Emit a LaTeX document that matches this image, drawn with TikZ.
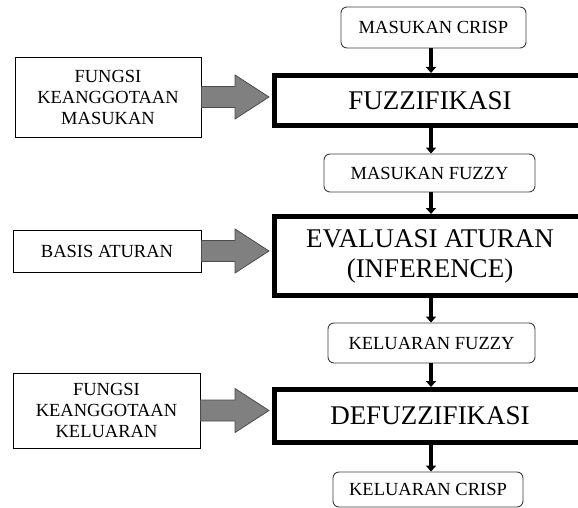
\documentclass[tikz,border=0pt]{standalone}
\usepackage{fontspec}
\setmainfont{Liberation Serif}
\usetikzlibrary{arrows.meta,calc}
\begin{document}
\begin{tikzpicture}[x=1pt,y=-1pt,
  smallbox/.style={draw=black!75,line width=0.9pt,rounded corners=6pt,fill=white,
    inner sep=0pt,font=\fontsize{18.5}{21}\selectfont},
  sidebox/.style={draw=black,line width=0.9pt,fill=white,inner sep=0pt,align=center,
    font=\fontsize{18.5}{21}\selectfont},
  bigbox/.style={draw=black,line width=5pt,fill=white,inner sep=0pt,align=center,
    minimum width=311pt,font=\fontsize{27}{30}\selectfont},
  flow/.style={line width=3.5pt,-{Triangle[length=6pt,width=10pt]}},
  fat/.style={fill=black!50,draw=black!70,line width=0.8pt,line join=miter}
]
\useasboundingbox (0,0) rectangle (578,508);
\clip (0,0) rectangle (578,508);
\fill[white] (0,0) rectangle (578,508);
\coordinate (ax) at (431,0);

% main column
\node[smallbox,minimum width=185pt,minimum height=41pt] (crisp) at (433.5,27.5) {MASUKAN CRISP};
\node[bigbox,minimum height=50pt] (fuzz) at (430,100.5) {FUZZIFIKASI};
\node[smallbox,minimum width=211pt,minimum height=38pt] (mfuzzy) at (429.5,173) {MASUKAN FUZZY};
\node[bigbox,minimum height=79pt] (eval) at (430,256) {EVALUASI ATURAN\\(INFERENCE)};
\node[smallbox,minimum width=207pt,minimum height=40pt] (kfuzzy) at (431.5,343) {KELUARAN FUZZY};
\node[bigbox,minimum height=53pt] (defuzz) at (430,416) {DEFUZZIFIKASI};
\node[smallbox,minimum width=190pt,minimum height=35pt] (kcrisp) at (428,489.5) {KELUARAN CRISP};

% side boxes
\node[sidebox,minimum width=186pt,minimum height=80pt] (l1) at (108,97) {FUNGSI\\KEANGGOTAAN\\MASUKAN};
\node[sidebox,minimum width=188pt,minimum height=42pt] (l2) at (107,251) {BASIS ATURAN};
\node[sidebox,minimum width=187pt,minimum height=75pt] (l3) at (106.5,410.5) {FUNGSI\\KEANGGOTAAN\\KELUARAN};

% flow arrows
\draw[flow] (crisp.south -| ax) -- (fuzz.north -| ax);
\draw[flow] (fuzz.south -| ax) -- (mfuzzy.north -| ax);
\draw[flow] (mfuzzy.south -| ax) -- (eval.north -| ax);
\draw[flow] (eval.south -| ax) -- (kfuzzy.north -| ax);
\draw[flow] (kfuzzy.south -| ax) -- (defuzz.north -| ax);
\draw[flow] (defuzz.south -| ax) -- (kcrisp.north -| ax);

% fat arrows
\foreach \a/\b in {l1/fuzz,l2/eval,l3/defuzz}{
  \draw[fat] let \p1=(\a.east), \p2=(\b.west) in
    (\x1,\y1+10.5pt) -- (235pt,\y1+10.5pt) -- (235pt,\y1+22pt) -- (\x2-3pt,\y1)
    -- (235pt,\y1-22pt) -- (235pt,\y1-10.5pt) -- (\x1,\y1-10.5pt) -- cycle;
}
\end{tikzpicture}
\end{document}
